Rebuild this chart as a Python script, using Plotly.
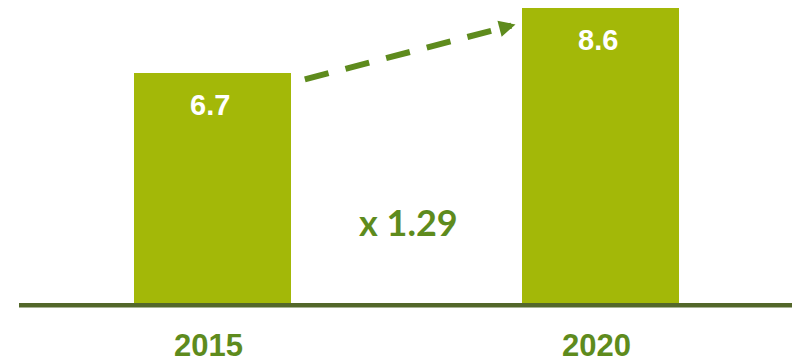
import plotly.graph_objects as go

# Data
years = ["2015", "2020"]
values = [6.7, 8.6]
growth_label = "x 1.29"

# Dashed growth arrow, tail and tip in data units (x = category index)
arrow_tail = (0.238, 6.52)
arrow_tip = (0.781, 8.12)

BAR_COLOR = "#A3B808"
TEXT_GREEN = "#5E8B1D"
BASE_COLOR = "#53672A"

x_pos = list(range(len(years)))

fig = go.Figure()

fig.add_trace(go.Bar(
    x=x_pos,
    y=values,
    width=0.4046,
    marker=dict(color=BAR_COLOR, line=dict(width=0)),
    hoverinfo="skip",
    showlegend=False,
))

# dashed shaft of the arrow, stopping short of the head
frac = 0.895
shaft_end = (arrow_tail[0] + frac * (arrow_tip[0] - arrow_tail[0]),
             arrow_tail[1] + frac * (arrow_tip[1] - arrow_tail[1]))
fig.add_trace(go.Scatter(
    x=[arrow_tail[0], shaft_end[0]],
    y=[arrow_tail[1], shaft_end[1]],
    mode="lines",
    line=dict(color=TEXT_GREEN, width=6, dash="24.5px,17.5px"),
    hoverinfo="skip",
    showlegend=False,
    cliponaxis=False,
))

annotations = []

# arrow head
annotations.append(dict(
    x=arrow_tip[0], y=arrow_tip[1], xref="x", yref="y",
    ax=-14.5, ay=3.8, text="", showarrow=True,
    arrowhead=2, arrowwidth=6, arrowsize=0.55, arrowcolor=TEXT_GREEN,
))

# value labels inside the bars
for xi, v in zip(x_pos, values):
    annotations.append(dict(
        x=xi, y=v, xref="x", yref="y", text=f"{v:.1f}",
        showarrow=False, yanchor="middle", yshift=-32, xshift=-2,
        font=dict(family="Liberation Sans, Arial", size=29, color="white", weight=700),
    ))

# year labels under the baseline
for xi, yr in zip(x_pos, years):
    annotations.append(dict(
        x=xi, y=0, xref="x", yref="y", text=yr,
        showarrow=False, yanchor="middle", yshift=-42, xshift=-4,
        height=28, valign="middle", borderpad=0,
        font=dict(family="Liberation Sans, Arial", size=31, color=TEXT_GREEN, weight=700),
    ))

# growth multiplier
annotations.append(dict(
    x=0.504, y=2.36, xref="x", yref="y", text=growth_label,
    showarrow=False, yanchor="middle",
    font=dict(family="Lato", size=36, color=TEXT_GREEN, weight=700),
))

fig.update_layout(
    width=792, height=360,
    margin=dict(l=19, r=0, t=0, b=50),
    paper_bgcolor="white", plot_bgcolor="white",
    xaxis=dict(range=[-0.4987, 1.4936], showgrid=False, zeroline=False,
               showline=False, showticklabels=False, ticks="", fixedrange=True),
    yaxis=dict(range=[-0.204, 8.834], showgrid=False, zeroline=False,
               showline=False, showticklabels=False, ticks="", fixedrange=True),
    annotations=annotations,
    shapes=[dict(
        type="rect", xref="paper", x0=0, x1=1,
        yref="y", ysizemode="pixel", yanchor=0, y0=0, y1=-4.6,
        fillcolor=BASE_COLOR, line=dict(width=0), layer="above",
    )],
    bargap=0,
)

fig.write_html("out.html")
